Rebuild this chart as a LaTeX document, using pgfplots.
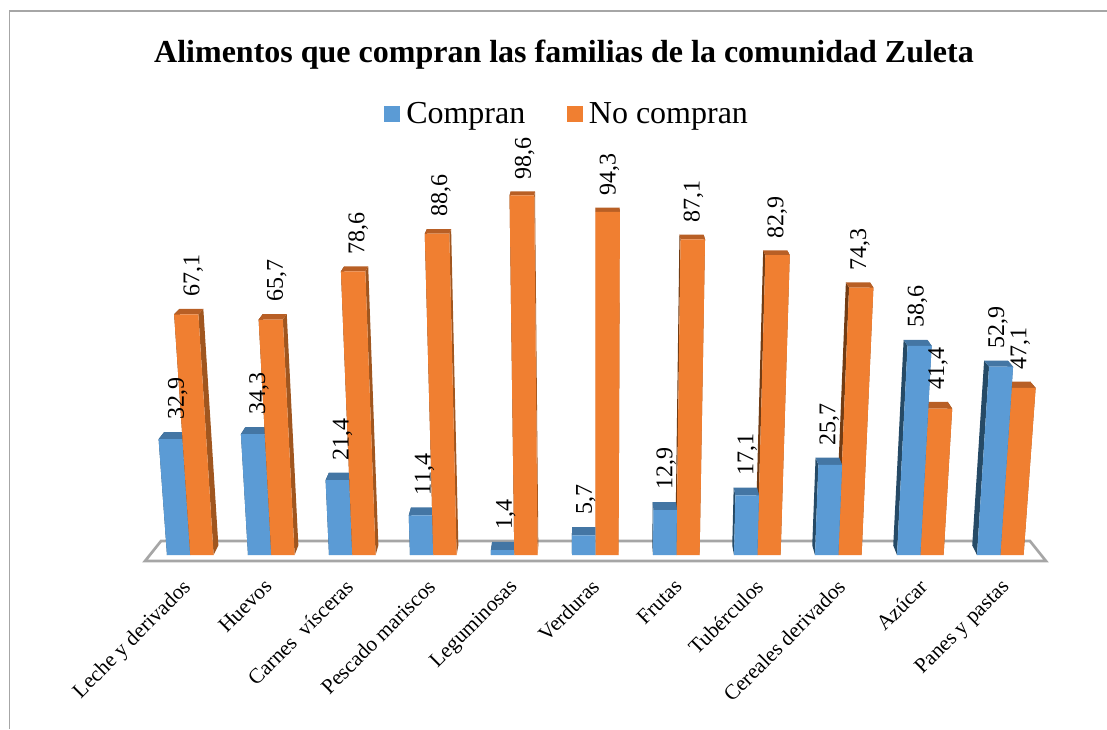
\documentclass[border=0pt]{standalone}
\usepackage{fontspec}
\setmainfont{Liberation Serif}
\usepackage{pgfplots}
\usepackage{pgfplotstable}
\pgfplotsset{compat=1.18}

\definecolor{azul}{HTML}{5B9BD5}
\definecolor{azultop}{HTML}{4476A4}
\definecolor{azulside}{HTML}{264A66}
\definecolor{naranja}{HTML}{F07F31}
\definecolor{naranjatop}{HTML}{B85F25}
\definecolor{naranjaright}{HTML}{A0561F}
\definecolor{naranjaleft}{HTML}{723C14}
\definecolor{marco}{HTML}{A6A6A6}

% x = left edge of the pair at floor level (px), then the two series
\pgfplotstableread{
x    compran nocompran
167  32.9    67.1
248  34.3    65.7
329  21.4    78.6
410  11.4    88.6
491  1.4     98.6
572  5.7     94.3
653  12.9    87.1
734  17.1    82.9
815  25.7    74.3
897  58.6    41.4
977  52.9    47.1
}\datos

% one bar: left, right at floor, value, front, top, left side, right side
\newcommand{\barra}[7]{%
  \pgfmathsetmacro{\XL}{#1+(#1-595)*0.0006*#3}%
  \pgfmathsetmacro{\XR}{#2+(#2-595)*0.0006*#3}%
  \pgfmathsetmacro{\BL}{\XL+(595-\XL)*0.0125}%
  \pgfmathsetmacro{\BR}{\XR+(595-\XR)*0.0125}%
  \pgfmathsetmacro{\bl}{#1+(595-#1)*0.0125}%
  \pgfmathsetmacro{\br}{#2+(595-#2)*0.0125}%
  \pgfmathsetmacro{\YB}{#3+(8.5-0.045*#3)/(3.46+0.0038*#3)}%
  \addplot[fill=#6,draw=none,forget plot] coordinates {(#1,0) (\bl,2.8) (\BL,\YB) (\XL,#3)} -- cycle;
  \addplot[fill=#7,draw=none,forget plot] coordinates {(#2,0) (\br,2.8) (\BR,\YB) (\XR,#3)} -- cycle;
  \addplot[fill=#5,draw=none,forget plot] coordinates {(\XL,#3) (\XR,#3) (\BR,\YB) (\BL,\YB)} -- cycle;
  \addplot[fill=#4,draw=none,forget plot] coordinates {(#1,0) (#2,0) (\XR,#3) (\XL,#3)} -- cycle;
}
% value label over the back edge of the top
\newcommand{\etiqueta}[3]{%
  \pgfmathsetmacro{\XC}{(#1+#2)/2+((#1+#2)/2-595)*0.0006*#3}%
  \pgfmathsetmacro{\BC}{\XC+(595-\XC)*0.0125}%
  \pgfmathsetmacro{\YB}{#3+(8.5-0.045*#3)/(3.46+0.0038*#3)}%
  \addplot[only marks,mark=none,forget plot,point meta=explicit,
    nodes near coords,
    every node near coord/.append style={font=\fontsize{18}{21}\selectfont,rotate=90,
      anchor=west,inner sep=0pt,xshift=9pt,yshift=-1.5pt},
    /pgf/number format/.cd,fixed,fixed zerofill,precision=1,dec sep={,},assume math mode=true]
    coordinates {(\BC,\YB)[#3]};
}

\begin{document}
\begin{tikzpicture}
\useasboundingbox (0,0) rectangle (830.25pt,546.75pt);
\begin{axis}[
    at={(0,0)},anchor=south west,
    scale only axis,
    width=830.25pt,height=546.75pt,
    xmin=0,xmax=1107,
    ymin=-51.76,ymax=148.32,
    y coord trafo/.code={\pgfmathparse{#1*(3.46+0.0019*#1)}},
    clip=false,
    axis line style={draw=none},
    major tick length=0pt,
    ytick=\empty,
    xtick={181,263,344,426,508,590,673,754,836,918,1000},
    xticklabels={Leche y derivados,Huevos,Carnes\ \ vísceras,Pescado mariscos,Leguminosas,Verduras,Frutas,Tubérculos,Cereales derivados,Azúcar,Panes y pastas},
    x tick label style={font=\fontsize{16}{20}\selectfont,rotate=45,anchor=north east,
      inner sep=0pt,xshift=80.3pt,yshift=80.3pt},
    title={\textbf{Alimentos que compran las familias de la comunidad Zuleta}},
    title style={at={(0.5095,0.914)},anchor=center,font=\fontsize{24}{28}\selectfont,inner sep=0pt},
    legend columns=-1,
    legend style={at={(0.5125,0.844)},anchor=center,draw=none,fill=none,
      font=\fontsize{24}{27}\selectfont,
      /tikz/every even column/.append style={column sep=29pt}},
    legend image code/.code={\fill[#1,draw=none] (0pt,-6pt) rectangle (12pt,6pt); \path (14.5pt,0pt);},
  ]
  \addlegendimage{fill=azul}\addlegendentry{Compran}
  \addlegendimage{fill=naranja}\addlegendentry{No compran}

  % outer frame of the chart area
  \draw[marco,line width=1pt] (rel axis cs:0.0086,0) -- (rel axis cs:0.0086,0.985) -- (rel axis cs:1,0.985);
  % floor
  \addplot[fill=white,draw=marco,line width=2pt,forget plot]
    coordinates {(145,-1.74) (161,4.04) (1030,4.04) (1046,-1.74)} -- cycle;

  \pgfplotsforeachungrouped \i in {0,...,10}{%
    \pgfplotstablegetelem{\i}{x}\of\datos \let\xa\pgfplotsretval
    \pgfplotstablegetelem{\i}{compran}\of\datos \let\va\pgfplotsretval
    \pgfplotstablegetelem{\i}{nocompran}\of\datos \let\vb\pgfplotsretval
    \pgfmathsetmacro{\xb}{\xa+23.3}%
    \pgfmathsetmacro{\xc}{\xa+46.6}%
    \ifnum\i<5
      \barra{\xa}{\xb}{\va}{azul}{azultop}{azulside}{azultop}%
      \barra{\xb}{\xc}{\vb}{naranja}{naranjatop}{naranjaleft}{naranjaright}%
    \else
      \barra{\xb}{\xc}{\vb}{naranja}{naranjatop}{naranjaleft}{naranjaright}%
      \barra{\xa}{\xb}{\va}{azul}{azultop}{azulside}{azultop}%
    \fi
  }
  \pgfplotsforeachungrouped \i in {0,...,10}{%
    \pgfplotstablegetelem{\i}{x}\of\datos \let\xa\pgfplotsretval
    \pgfplotstablegetelem{\i}{compran}\of\datos \let\va\pgfplotsretval
    \pgfplotstablegetelem{\i}{nocompran}\of\datos \let\vb\pgfplotsretval
    \pgfmathsetmacro{\xb}{\xa+23.3}%
    \pgfmathsetmacro{\xc}{\xa+46.6}%
    \etiqueta{\xa}{\xb}{\va}%
    \etiqueta{\xb}{\xc}{\vb}%
  }
\end{axis}
\end{tikzpicture}
\end{document}
